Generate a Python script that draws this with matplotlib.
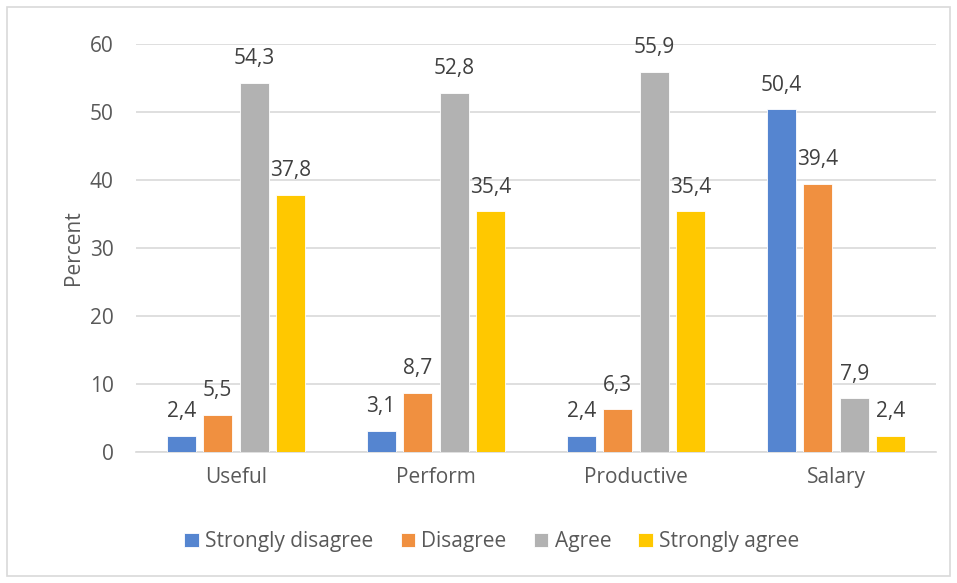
import matplotlib
matplotlib.use("Agg")
import matplotlib.pyplot as plt
from matplotlib.patches import Rectangle
import numpy as np

categories = ["Useful", "Perform", "Productive", "Salary"]
series_names = ["Strongly disagree", "Disagree", "Agree", "Strongly agree"]
strongly_disagree = [2.4, 3.1, 2.4, 50.4]
disagree = [5.5, 8.7, 6.3, 39.4]
agree = [54.3, 52.8, 55.9, 7.9]
strongly_agree = [37.8, 35.4, 35.4, 2.4]
yticks = [0, 10, 20, 30, 40, 50, 60]

series = [strongly_disagree, disagree, agree, strongly_agree]
colors = ["#5585D0", "#F09040", "#B2B2B2", "#FFC800"]

plt.rcParams["font.family"] = ["Open Sans", "DejaVu Sans"]
FS = 15

fig = plt.figure(figsize=(9.57, 5.83), dpi=100)
ax = fig.add_axes([0.142, 0.2247, 0.836, 0.6998])

# outer chart border
fig.patches.append(Rectangle((0.007, 0.012), 0.986, 0.976, transform=fig.transFigure,
                             fill=False, edgecolor="#D9D9D9", linewidth=1.2))

x = np.arange(len(categories))
width = 0.145
step = 0.1825
offsets = (np.arange(len(series)) - 1.5) * step

for vals, name, col, off in zip(series, series_names, colors, offsets):
    bars = ax.bar(x + off, vals, width, color=col, label=name,
                  edgecolor="white", linewidth=0.6, zorder=3)
    for b, v in zip(bars, vals):
        ax.text(b.get_x() + b.get_width() / 2, v + 2.0, f"{v:.1f}".replace(".", ","),
                ha="center", va="bottom", fontsize=FS, color="#404040")

ax.set_xlim(-0.5, 3.5)
ax.set_ylim(0, 60)
ax.set_yticks(yticks)
ax.set_xticks(x)
ax.set_xticklabels(categories)
ax.tick_params(axis="both", length=0, labelsize=FS, colors="#595959")
ax.tick_params(axis="x", pad=11)
ax.tick_params(axis="y", pad=16)
ax.grid(axis="y", color="#D9D9D9", linewidth=1.2, zorder=0)
for s in ["top", "right", "left"]:
    ax.spines[s].set_visible(False)
ax.spines["bottom"].set_color("#D9D9D9")
ax.spines["bottom"].set_linewidth(1.2)

ax.set_ylabel("Percent", fontsize=FS, color="#595959", labelpad=4)

leg = fig.legend(loc="center", bbox_to_anchor=(0.514, 0.071), ncol=4, frameon=False,
                 fontsize=FS, handlelength=0.7, handleheight=0.7, handletextpad=0.3,
                 columnspacing=1.3)
for t in leg.get_texts():
    t.set_color("#595959")

fig.savefig("out.png", dpi=100)
